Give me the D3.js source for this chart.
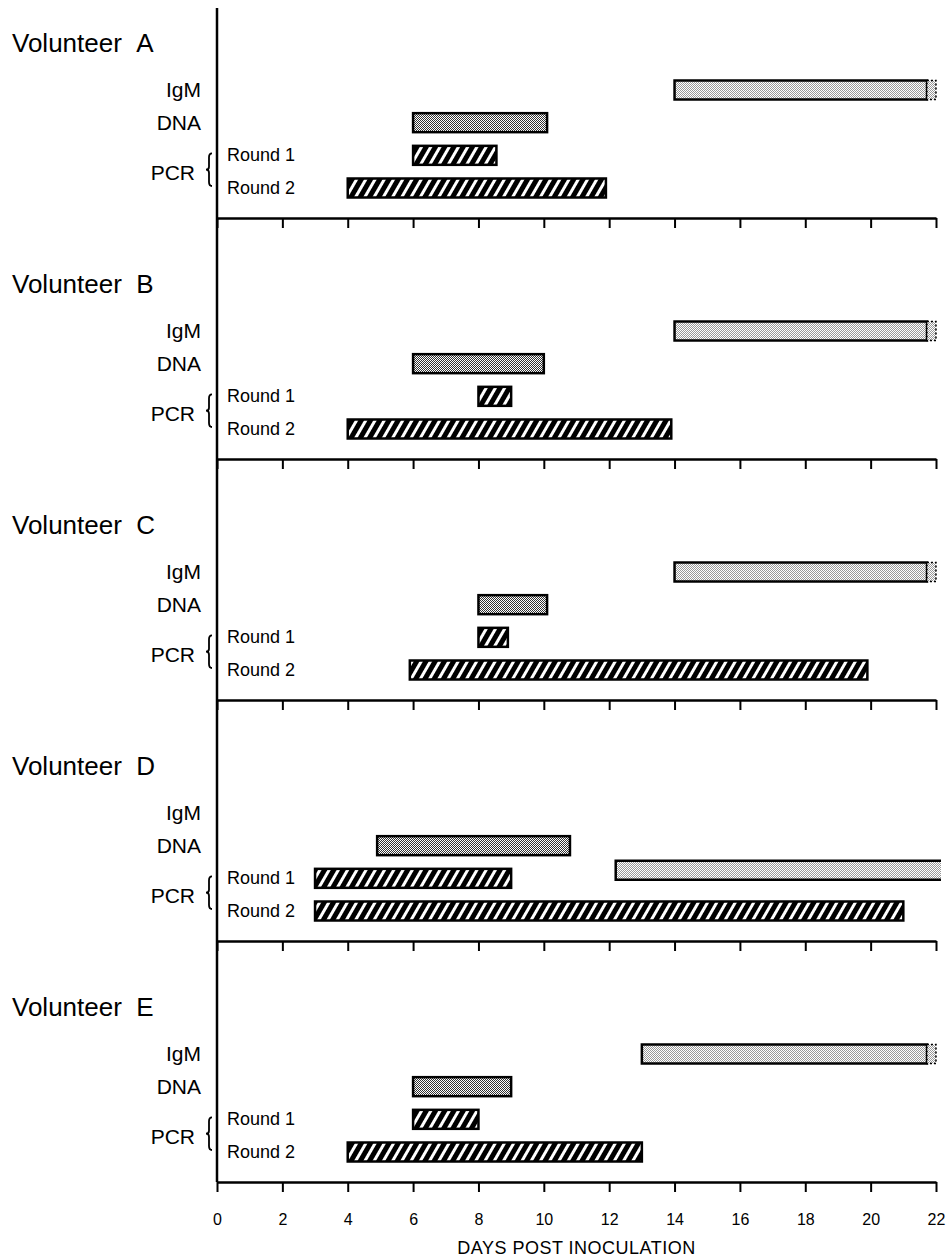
<!DOCTYPE html>
<html>
<head>
<meta charset="utf-8">
<script src="https://cdn.jsdelivr.net/npm/d3@7"></script>
<style>
  body { margin: 0; background: #fff; }
  text { font-family: "Liberation Sans", Arial, Helvetica, sans-serif; fill: #000; }
</style>
</head>
<body>
<div id="chart"></div>
<script>
// volunteers and detection windows (days post inoculation)
var volunteers = ["A", "B", "C", "D", "E"];
var rowNames = ["IgM", "DNA", "Round 1", "Round 2"];
var dayTicks = [0, 2, 4, 6, 8, 10, 12, 14, 16, 18, 20, 22];

var igm     = [[14, 22], [14, 22], [14, 22], [12.2, 22], [13, 22]];
var igmEnd  = ["dotted", "dotted", "dotted", "open", "dotted"];
var igmLane = [0, 0, 0, 1.75, 0];   // panel D draws its IgM bar lower down
var dna     = [[6, 10.1], [6, 10], [8, 10.1], [4.9, 10.8], [6, 9]];
var round1  = [[6, 8.55], [8, 9], [8, 8.9], [3, 9], [6, 8]];
var round2  = [[4, 11.9], [4, 13.9], [5.9, 19.9], [3, 21], [4, 13]];

var width = 948, height = 1260;
var svg = d3.select("#chart").append("svg")
    .attr("width", width)
    .attr("height", height);

// fills
var defs = svg.append("defs");
var hatch = defs.append("pattern")
    .attr("id", "hatch")
    .attr("patternUnits", "userSpaceOnUse")
    .attr("width", 8).attr("height", 8)
    .attr("patternTransform", "rotate(30)");
hatch.append("rect").attr("width", 8).attr("height", 8).attr("fill", "#000");
hatch.append("rect").attr("width", 3).attr("height", 8).attr("fill", "#fff");

var dots = defs.append("pattern")
    .attr("id", "dnaDots")
    .attr("patternUnits", "userSpaceOnUse")
    .attr("width", 2).attr("height", 2);
dots.append("rect").attr("width", 2).attr("height", 2).attr("fill", "#fff");
dots.append("rect").attr("width", 1).attr("height", 1).attr("fill", "#333");
dots.append("rect").attr("x", 1).attr("y", 1).attr("width", 1).attr("height", 1).attr("fill", "#333");

var light = defs.append("pattern")
    .attr("id", "igmDots")
    .attr("patternUnits", "userSpaceOnUse")
    .attr("width", 2).attr("height", 2);
light.append("rect").attr("width", 2).attr("height", 2).attr("fill", "#fff");
light.append("rect").attr("width", 1).attr("height", 1).attr("fill", "#999");
light.append("rect").attr("x", 1).attr("y", 1).attr("width", 1).attr("height", 1).attr("fill", "#999");

// scales
var x = d3.scaleLinear().domain([0, 22]).range([217, 936]);
var panelBottom = d3.scalePoint().domain(volunteers).range([217, 1183]).round(true);
var lane = d3.scaleLinear().domain([0, 3]).range([-128, -30]);  // offset from panel bottom
var barH = 19;

// vertical axis line
svg.append("line")
    .attr("x1", x(0)).attr("x2", x(0))
    .attr("y1", 8).attr("y2", panelBottom("E"))
    .attr("stroke", "#000").attr("stroke-width", 2.5);

volunteers.forEach(function(v, i) {
  var yb = Math.round(panelBottom(v));
  var g = svg.append("g").attr("transform", "translate(0," + yb + ")");

  // axis with ticks at the bottom of each panel
  var axis = d3.axisBottom(x)
      .tickValues(dayTicks)
      .tickSize(10)
      .tickSizeOuter(0)
      .tickPadding(22)
      .tickFormat(i === volunteers.length - 1 ? d3.format("d") : "");
  var ax = g.append("g").call(axis);
  ax.select(".domain").attr("stroke-width", 2.5);
  ax.selectAll(".tick line").attr("stroke-width", 2);
  ax.selectAll(".tick text")
      .style("font-size", "16px")
      .style("font-family", "'Liberation Sans', Arial, sans-serif");

  // labels
  g.append("text")
      .attr("x", 12).attr("y", -166)
      .style("font-size", "26px")
      .text("Volunteer\u00a0\u00a0" + v);
  g.append("text")
      .attr("x", 201).attr("y", lane(0) + 7)
      .attr("text-anchor", "end")
      .style("font-size", "21px")
      .text(rowNames[0]);
  g.append("text")
      .attr("x", 201).attr("y", lane(1) + 7)
      .attr("text-anchor", "end")
      .style("font-size", "21px")
      .text(rowNames[1]);
  g.append("text")
      .attr("x", 227).attr("y", lane(2) + 6)
      .style("font-size", "18px")
      .text(rowNames[2]);
  g.append("text")
      .attr("x", 227).attr("y", lane(3) + 6)
      .style("font-size", "18px")
      .text(rowNames[3]);
  g.append("text")
      .attr("x", 195).attr("y", (lane(2) + lane(3)) / 2 + 8)
      .attr("text-anchor", "end")
      .style("font-size", "21px")
      .text("PCR");

  // brace
  var bt = lane(2) - 2, bbm = lane(3) - 2, bm = (bt + bbm) / 2, bx = 209;
  g.append("path")
      .attr("d", "M" + (bx + 3) + "," + bt +
                 " Q" + bx + "," + bt + " " + bx + "," + (bt + 4) +
                 " L" + bx + "," + (bm - 3) +
                 " Q" + bx + "," + bm + " " + (bx - 3) + "," + bm +
                 " Q" + bx + "," + bm + " " + bx + "," + (bm + 3) +
                 " L" + bx + "," + (bbm - 4) +
                 " Q" + bx + "," + bbm + " " + (bx + 3) + "," + bbm)
      .attr("fill", "none").attr("stroke", "#000").attr("stroke-width", 1.8);

  // plain bars
  function bar(range, laneIdx, fill) {
    g.append("rect")
        .attr("x", x(range[0]))
        .attr("y", lane(laneIdx) - barH / 2)
        .attr("width", x(range[1]) - x(range[0]))
        .attr("height", barH)
        .attr("fill", fill)
        .attr("stroke", "#000").attr("stroke-width", 2.5);
  }
  bar(dna[i], 1, "url(#dnaDots)");
  bar(round1[i], 2, "url(#hatch)");
  bar(round2[i], 3, "url(#hatch)");

  // IgM bar, still positive at day 22
  var r = igm[i], yt = lane(igmLane[i]) - barH / 2;
  if (igmEnd[i] === "dotted") {
    var xs = x(r[1]) - 9;
    g.append("rect")
        .attr("x", x(r[0])).attr("y", yt)
        .attr("width", xs - x(r[0])).attr("height", barH)
        .attr("fill", "url(#igmDots)")
        .attr("stroke", "#000").attr("stroke-width", 2.5);
    g.append("rect")
        .attr("x", xs).attr("y", yt)
        .attr("width", x(r[1]) - xs).attr("height", barH)
        .attr("fill", "url(#igmDots)")
        .attr("stroke", "#000").attr("stroke-width", 1.5)
        .attr("stroke-dasharray", "2,2");
  } else {
    var xe = x(r[1]) + 5;
    g.append("rect")
        .attr("x", x(r[0])).attr("y", yt)
        .attr("width", xe - x(r[0])).attr("height", barH)
        .attr("fill", "url(#igmDots)");
    g.append("path")
        .attr("d", "M" + xe + "," + yt + "H" + x(r[0]) + "V" + (yt + barH) + "H" + xe)
        .attr("fill", "none")
        .attr("stroke", "#000").attr("stroke-width", 2.5);
  }
});

svg.append("text")
    .attr("x", (x(0) + x(22)) / 2)
    .attr("y", 1254)
    .attr("text-anchor", "middle")
    .style("font-size", "18px")
    .style("letter-spacing", "0.5px")
    .text("DAYS POST INOCULATION");
</script>
</body>
</html>
